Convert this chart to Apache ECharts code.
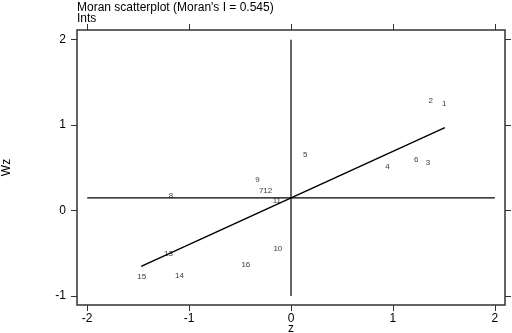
<!DOCTYPE html>
<html><head><meta charset="utf-8">
<script src="https://cdn.jsdelivr.net/npm/echarts@6/dist/echarts.min.js"></script>
<style>html,body{margin:0;padding:0;background:#fff}#c{width:512px;height:333px}</style>
</head><body><div id="c"></div>
<script>
// Data
const regionLabels = ['1','2','3','4','5','6','7','8','9','10','11','12','13','14','15','16'];
const zValues  = [1.503, 1.372, 1.343, 0.947, 0.139, 1.228, -0.293, -1.179, -0.329, -0.129, -0.139, -0.229, -1.203, -1.095, -1.464, -0.443];
const wzValues = [1.251, 1.282, 0.564, 0.517, 0.658, 0.597, 0.233, 0.178, 0.362, -0.447, 0.112, 0.233, -0.508, -0.766, -0.774, -0.633];
const regLineX = [-1.47, 1.51];
const regLineY = [-0.653, 0.971];
const meanWz = 0.148;
const meanZ = 0;
const meanLineXSpan = [-2, 2];
const meanLineYSpan = [-1, 2];
const xTicks = [-2, -1, 0, 1, 2];
const yTicks = [-1, 0, 1, 2];
const titleText = "Moran scatterplot (Moran's I = 0.545)";
const subTitleText = 'Ints';

const FONT = 'Liberation Sans, Arial, sans-serif';
const chart = echarts.init(document.getElementById('c'), null, {renderer: 'canvas'});
const axisCommon = {
  type: 'value',
  splitLine: {show: false},
  axisLine: {show: false, onZero: false},
};
const tickStyle = {color: '#333', width: 1};
const pts = zValues.map((z, i) => ({name: regionLabels[i], value: [z, wzValues[i]]}));
chart.setOption({
  animation: false,
  backgroundColor: '#fff',
  title: [
    {text: titleText, left: 77, top: 1.5, padding: 0, textStyle: {fontFamily: FONT, fontSize: 12, fontWeight: 'normal', color: '#000'}},
    {text: subTitleText, left: 77, top: 12.5, padding: 0, textStyle: {fontFamily: FONT, fontSize: 12, fontWeight: 'normal', color: '#000'}}
  ],
  grid: {left: 77, right: 7, top: 30, bottom: 28, outerBoundsMode: 'none', containLabel: false,
         show: true, borderColor: '#333', borderWidth: 1.5, backgroundColor: 'transparent'},
  xAxis: [
    Object.assign({}, axisCommon, {
      min: -2.1, max: 2.1, position: 'bottom',
      axisTick: {show: true, length: 6, customValues: xTicks, lineStyle: tickStyle},
      axisLabel: {customValues: xTicks, margin: 8, fontFamily: FONT, fontSize: 12, color: '#000'},
      name: 'z', nameLocation: 'middle', nameGap: 24, nameMoveOverlap: false,
      nameTextStyle: {fontFamily: FONT, fontSize: 12, color: '#000', verticalAlign: 'middle', padding: 0}
    }),
    Object.assign({}, axisCommon, {
      min: -2.1, max: 2.1, position: 'top',
      axisTick: {show: true, length: 6, customValues: xTicks, lineStyle: tickStyle},
      axisLabel: {show: false}
    })
  ],
  yAxis: [
    Object.assign({}, axisCommon, {
      min: -1.105, max: 2.114, position: 'left',
      axisTick: {show: true, length: 6, customValues: yTicks, lineStyle: tickStyle},
      axisLabel: {customValues: yTicks, margin: 11, fontFamily: FONT, fontSize: 12, color: '#000'},
      name: 'Wz', nameLocation: 'middle', nameGap: 70, nameRotate: 90, nameMoveOverlap: false,
      nameTextStyle: {fontFamily: FONT, fontSize: 12, color: '#000', verticalAlign: 'middle', padding: 0}
    }),
    Object.assign({}, axisCommon, {
      min: -1.105, max: 2.114, position: 'right',
      axisTick: {show: true, length: 6, customValues: yTicks, lineStyle: tickStyle},
      axisLabel: {show: false}
    })
  ],
  series: [
    {type: 'line', xAxisIndex: 0, yAxisIndex: 0, symbol: 'none', silent: true,
     data: meanLineXSpan.map(x => [x, meanWz]), lineStyle: {color: '#000', width: 1.2}},
    {type: 'line', xAxisIndex: 0, yAxisIndex: 0, symbol: 'none', silent: true,
     data: meanLineYSpan.map(y => [meanZ, y]), lineStyle: {color: '#000', width: 1.2}},
    {type: 'line', xAxisIndex: 0, yAxisIndex: 0, symbol: 'none', silent: true,
     data: regLineX.map((x, i) => [x, regLineY[i]]), lineStyle: {color: '#000', width: 1.5}},
    {type: 'scatter', xAxisIndex: 0, yAxisIndex: 0, symbolSize: 1, itemStyle: {color: 'rgba(0,0,0,0)'},
     data: pts,
     label: {show: true, position: 'inside', formatter: p => p.name, fontFamily: FONT, fontSize: 8, color: '#000'}}
  ]
});
</script></body></html>
